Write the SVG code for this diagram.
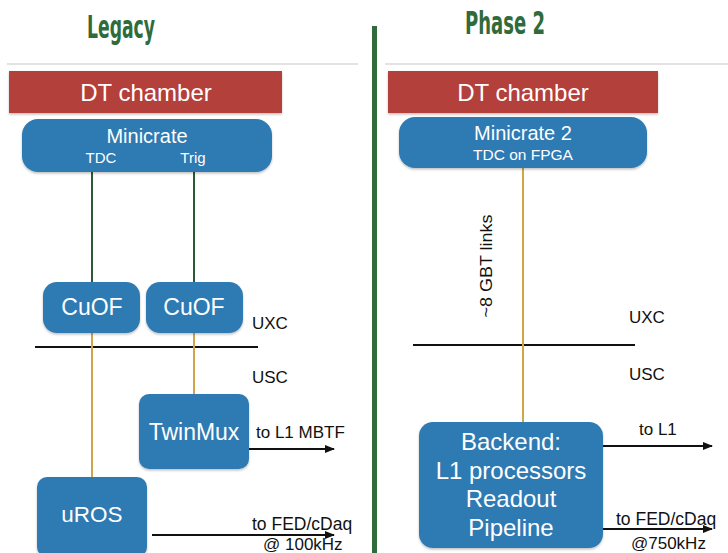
<svg xmlns="http://www.w3.org/2000/svg" width="728" height="553" viewBox="0 0 728 553">
<style>
.title{font-family:"DejaVu Sans Condensed","DejaVu Sans",sans-serif;font-weight:bold;font-size:32px;fill:#2f6b3b}
.t{font-family:"Liberation Sans",Arial,sans-serif;fill:#ffffff;text-anchor:middle}
.k{font-family:"Liberation Sans",Arial,sans-serif;fill:#111111}
.red{fill:#b3403a}
.blue{fill:#2f7ab2}
.gold{stroke:#d1a64a;stroke-width:2;fill:none}
.grn{stroke:#2b5a33;stroke-width:2;fill:none}
.blk{stroke:#111111;stroke-width:2;fill:none}
.gray{stroke:#c8c8c8;stroke-width:1.2}
</style>
<defs>
<marker id="ah" markerWidth="10" markerHeight="8" refX="9" refY="4" orient="auto" markerUnits="userSpaceOnUse">
<path d="M0,0 L10,4 L0,8 z" fill="#111111"/>
</marker>
<filter id="sh" x="-10%" y="-10%" width="120%" height="130%">
<feDropShadow dx="0" dy="1.5" stdDeviation="1.2" flood-color="#000" flood-opacity="0.25"/>
</filter>
</defs>
<rect width="728" height="553" fill="#ffffff"/>
<g id="titles">
<text class="title" x="87" y="38" textLength="68" lengthAdjust="spacingAndGlyphs">Legacy</text>
<text class="title" x="465" y="34" textLength="80" lengthAdjust="spacingAndGlyphs">Phase 2</text>
</g>
<g id="frame">
<line class="gray" x1="7" y1="64" x2="358" y2="64"/>
<line class="gray" x1="385" y1="64" x2="728" y2="64"/>
<rect x="372" y="26" width="5" height="527" fill="#2f6b3b"/>
<line class="blk" x1="35" y1="347" x2="258" y2="347"/>
<line class="blk" x1="413" y1="345" x2="635" y2="345"/>
<text class="k" x="252" y="329" font-size="17">UXC</text>
<text class="k" x="252" y="383" font-size="17">USC</text>
<text class="k" x="629" y="323" font-size="17">UXC</text>
<text class="k" x="629" y="380" font-size="17">USC</text>
</g>
<g id="connectors">
<line class="grn" x1="92" y1="172" x2="92" y2="282"/>
<line class="grn" x1="194" y1="172" x2="194" y2="282"/>
<line class="gold" x1="92" y1="333" x2="92" y2="477"/>
<line class="gold" x1="194" y1="333" x2="194" y2="394"/>
<line class="gold" x1="523" y1="168" x2="523" y2="422"/>
<text class="k" font-size="17" transform="translate(492,266) rotate(-90)" text-anchor="middle" textLength="103" lengthAdjust="spacingAndGlyphs">~8 GBT links</text>
<line class="blk" x1="249" y1="449" x2="334" y2="449" marker-end="url(#ah)"/>
<text class="k" x="256" y="438" font-size="17">to L1 MBTF</text>
<line class="blk" x1="152" y1="535" x2="334" y2="535" marker-end="url(#ah)"/>
<text class="k" x="252" y="530" font-size="17.5">to FED/cDaq</text>
<text class="k" x="263" y="550" font-size="17">@ 100kHz</text>
<line class="blk" x1="603" y1="446" x2="712" y2="446" marker-end="url(#ah)"/>
<text class="k" x="639" y="435" font-size="17">to L1</text>
<line class="blk" x1="603" y1="529" x2="712" y2="529" marker-end="url(#ah)"/>
<text class="k" x="616" y="525" font-size="17.5">to FED/cDaq</text>
<text class="k" x="631" y="549" font-size="17">@750kHz</text>
</g>
<g id="dt-legacy">
<rect class="red" x="9" y="71" width="273" height="42" filter="url(#sh)"/>
<text class="t" x="146" y="101" font-size="24">DT chamber</text>
</g>
<g id="minicrate">
<rect class="blue" x="22" y="119" width="250" height="53" rx="16" filter="url(#sh)"/>
<text class="t" x="147" y="143" font-size="20">Minicrate</text>
<text class="t" x="101" y="163" font-size="15">TDC</text>
<text class="t" x="193" y="163" font-size="15">Trig</text>
</g>
<g id="cuof1">
<rect class="blue" x="43" y="282" width="97" height="51" rx="14" filter="url(#sh)"/>
<text class="t" x="92" y="315" font-size="23">CuOF</text>
</g>
<g id="cuof2">
<rect class="blue" x="146" y="282" width="97" height="51" rx="14" filter="url(#sh)"/>
<text class="t" x="194" y="315" font-size="23">CuOF</text>
</g>
<g id="twinmux">
<rect class="blue" x="139" y="394" width="110" height="75" rx="10" filter="url(#sh)"/>
<text class="t" x="194" y="440" font-size="23">TwinMux</text>
</g>
<g id="uros">
<rect class="blue" x="37" y="477" width="110" height="80" rx="10" filter="url(#sh)"/>
<text class="t" x="92" y="522" font-size="22.5">uROS</text>
</g>
<g id="dt-phase2">
<rect class="red" x="388" y="71" width="270" height="42" filter="url(#sh)"/>
<text class="t" x="523" y="101" font-size="24">DT chamber</text>
</g>
<g id="minicrate2">
<rect class="blue" x="399" y="117" width="248" height="51" rx="16" filter="url(#sh)"/>
<text class="t" x="523" y="140" font-size="20">Minicrate 2</text>
<text class="t" x="523" y="160" font-size="15.5">TDC on FPGA</text>
</g>
<g id="backend">
<rect class="blue" x="419" y="422" width="184" height="126" rx="14" filter="url(#sh)"/>
<text class="t" x="511" y="450" font-size="24">Backend:</text>
<text class="t" x="511" y="479" font-size="24">L1 processors</text>
<text class="t" x="511" y="507" font-size="24">Readout</text>
<text class="t" x="511" y="536" font-size="24">Pipeline</text>
</g>
</svg>
